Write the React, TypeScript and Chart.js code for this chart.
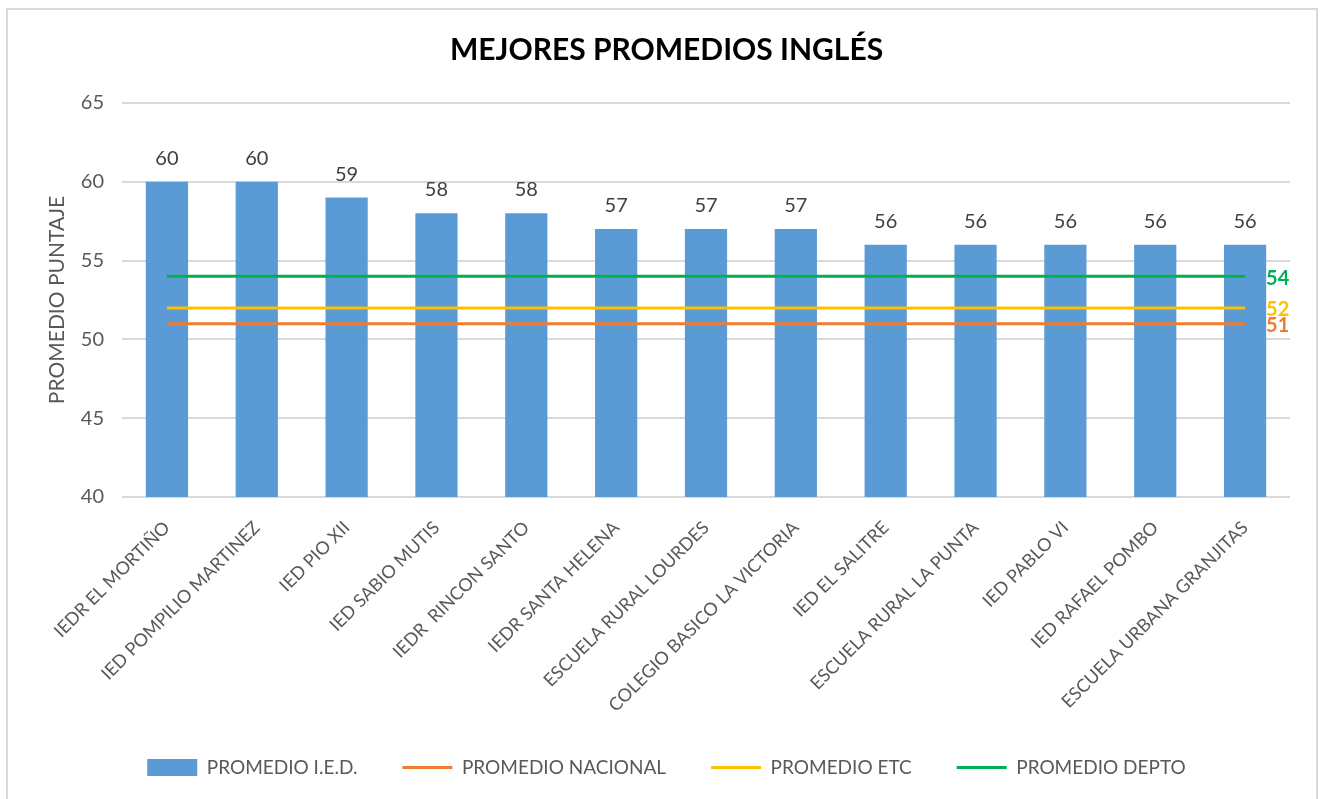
import React, { useEffect, useRef } from 'react';
import { Chart, registerables } from 'chart.js';

Chart.register(...registerables);

const categories = [
  'IEDR EL MORTIÑO',
  'IED POMPILIO MARTINEZ',
  'IED PIO XII',
  'IED SABIO MUTIS',
  'IEDR  RINCON SANTO',
  'IEDR SANTA HELENA',
  'ESCUELA RURAL LOURDES',
  'COLEGIO BASICO LA VICTORIA',
  'IED EL SALITRE',
  'ESCUELA RURAL LA PUNTA',
  'IED PABLO VI',
  'IED RAFAEL POMBO',
  'ESCUELA URBANA GRANJITAS',
];

const promedioIED = [60, 60, 59, 58, 58, 57, 57, 57, 56, 56, 56, 56, 56];
const promedioNacional = [51, 51, 51, 51, 51, 51, 51, 51, 51, 51, 51, 51, 51];
const promedioETC = [52, 52, 52, 52, 52, 52, 52, 52, 52, 52, 52, 52, 52];
const promedioDepto = [54, 54, 54, 54, 54, 54, 54, 54, 54, 54, 54, 54, 54];

const seriesLabels = ['PROMEDIO I.E.D.', 'PROMEDIO NACIONAL', 'PROMEDIO ETC', 'PROMEDIO DEPTO'];
const yMin = 40;
const yMax = 65;
const yStep = 5;

const FONT = 'Lato';
const TEXT = '#595959';

const borderPlugin = {
  id: 'frameBorder',
  beforeDraw(chart: any) {
    const ctx = chart.ctx;
    ctx.save();
    ctx.fillStyle = '#ffffff';
    ctx.fillRect(0, 0, chart.width, chart.height);
    ctx.strokeStyle = '#D9D9D9';
    ctx.lineWidth = 2;
    ctx.strokeRect(7, 9, 1310, 820);
    ctx.restore();
  },
};

const labelsPlugin = {
  id: 'valueLabels',
  afterDatasetsDraw(chart: any) {
    const ctx = chart.ctx;
    ctx.save();
    chart.data.datasets.forEach((ds: any, i: number) => {
      const meta = chart.getDatasetMeta(i);
      if (ds.type === 'bar') {
        ctx.font = `20px ${FONT}`;
        ctx.fillStyle = '#404040';
        ctx.textAlign = 'center';
        ctx.textBaseline = 'alphabetic';
        meta.data.forEach((el: any, j: number) => {
          ctx.fillText(String(ds.data[j]), el.x, el.y - 17);
        });
      } else {
        const last = meta.data[meta.data.length - 1];
        ctx.font = `bold 20px ${FONT}`;
        ctx.fillStyle = ds.borderColor;
        ctx.textAlign = 'left';
        ctx.textBaseline = 'middle';
        ctx.fillText(String(ds.data[ds.data.length - 1]), last.x + 21, last.y + 2);
      }
    });
    ctx.restore();
  },
};

export default function App() {
  const ref = useRef<HTMLCanvasElement>(null);

  useEffect(() => {
    if (!ref.current) return;
    const lineDs = (label: string, data: number[], color: string) => ({
      type: 'line' as const,
      label,
      data,
      borderColor: color,
      backgroundColor: color,
      borderWidth: 3,
      pointRadius: 0,
      pointHoverRadius: 0,
      tension: 0,
      order: 0,
    });
    const chart = new Chart(ref.current, {
      type: 'bar',
      data: {
        labels: categories,
        datasets: [
          {
            type: 'bar',
            label: seriesLabels[0],
            data: promedioIED,
            backgroundColor: '#5B9BD5',
            borderWidth: 0,
            barPercentage: 0.94,
            categoryPercentage: 0.5,
            order: 1,
          } as any,
          lineDs(seriesLabels[1], promedioNacional, '#ED7D31'),
          lineDs(seriesLabels[2], promedioETC, '#FFC000'),
          lineDs(seriesLabels[3], promedioDepto, '#00B050'),
        ],
      },
      options: {
        responsive: false,
        animation: false,
        devicePixelRatio: 1,
        layout: { padding: { left: 43, right: 32, top: 0, bottom: 12 } },
        scales: {
          x: {
            grid: { display: false },
            border: { display: false },
            ticks: {
              color: TEXT,
              font: { family: FONT, size: 18 },
              maxRotation: 45,
              minRotation: 45,
              autoSkip: false,
              padding: 12,
            },
            afterFit(scale: any) {
              scale.height = 216;
            },
          },
          y: {
            min: yMin,
            max: yMax,
            ticks: {
              stepSize: yStep,
              color: TEXT,
              font: { family: FONT, size: 20 },
              padding: 18,
            },
            grid: { color: '#D9D9D9', lineWidth: 2, drawTicks: false },
            border: { display: false },
            title: {
              display: true,
              text: 'PROMEDIO PUNTAJE',
              color: TEXT,
              font: { family: FONT, size: 21 },
              padding: 2,
            },
            afterFit(scale: any) {
              scale.width = 79;
            },
          },
        },
        plugins: {
          title: {
            display: true,
            text: 'MEJORES PROMEDIOS INGLÉS',
            color: '#000000',
            font: { family: FONT, size: 30, weight: 'bold' },
            padding: { top: 32, bottom: 35 },
          },
          legend: {
            position: 'bottom',
            labels: {
              color: TEXT,
              font: { family: FONT, size: 19 },
              usePointStyle: true,
              pointStyleWidth: 50,
              boxHeight: 17,
              padding: 45,
              generateLabels: (c: any) =>
                c.data.datasets.map((ds: any, i: number) => ({
                  text: ds.label,
                  fillStyle: ds.type === 'line' ? ds.borderColor : ds.backgroundColor,
                  strokeStyle: ds.type === 'line' ? ds.borderColor : ds.backgroundColor,
                  lineWidth: ds.type === 'line' ? 3 : 0,
                  pointStyle: ds.type === 'line' ? 'line' : 'rect',
                  hidden: false,
                  datasetIndex: i,
                  fontColor: TEXT,
                })),
            },
          },
          tooltip: { enabled: false },
        },
      },
      plugins: [borderPlugin, labelsPlugin],
    });
    return () => chart.destroy();
  }, []);

  return (
    <div style={{ position: 'absolute', left: 0, top: 0, width: 1322, height: 799 }}>
      <canvas ref={ref} width={1322} height={799} style={{ display: 'block' }} />
    </div>
  );
}
